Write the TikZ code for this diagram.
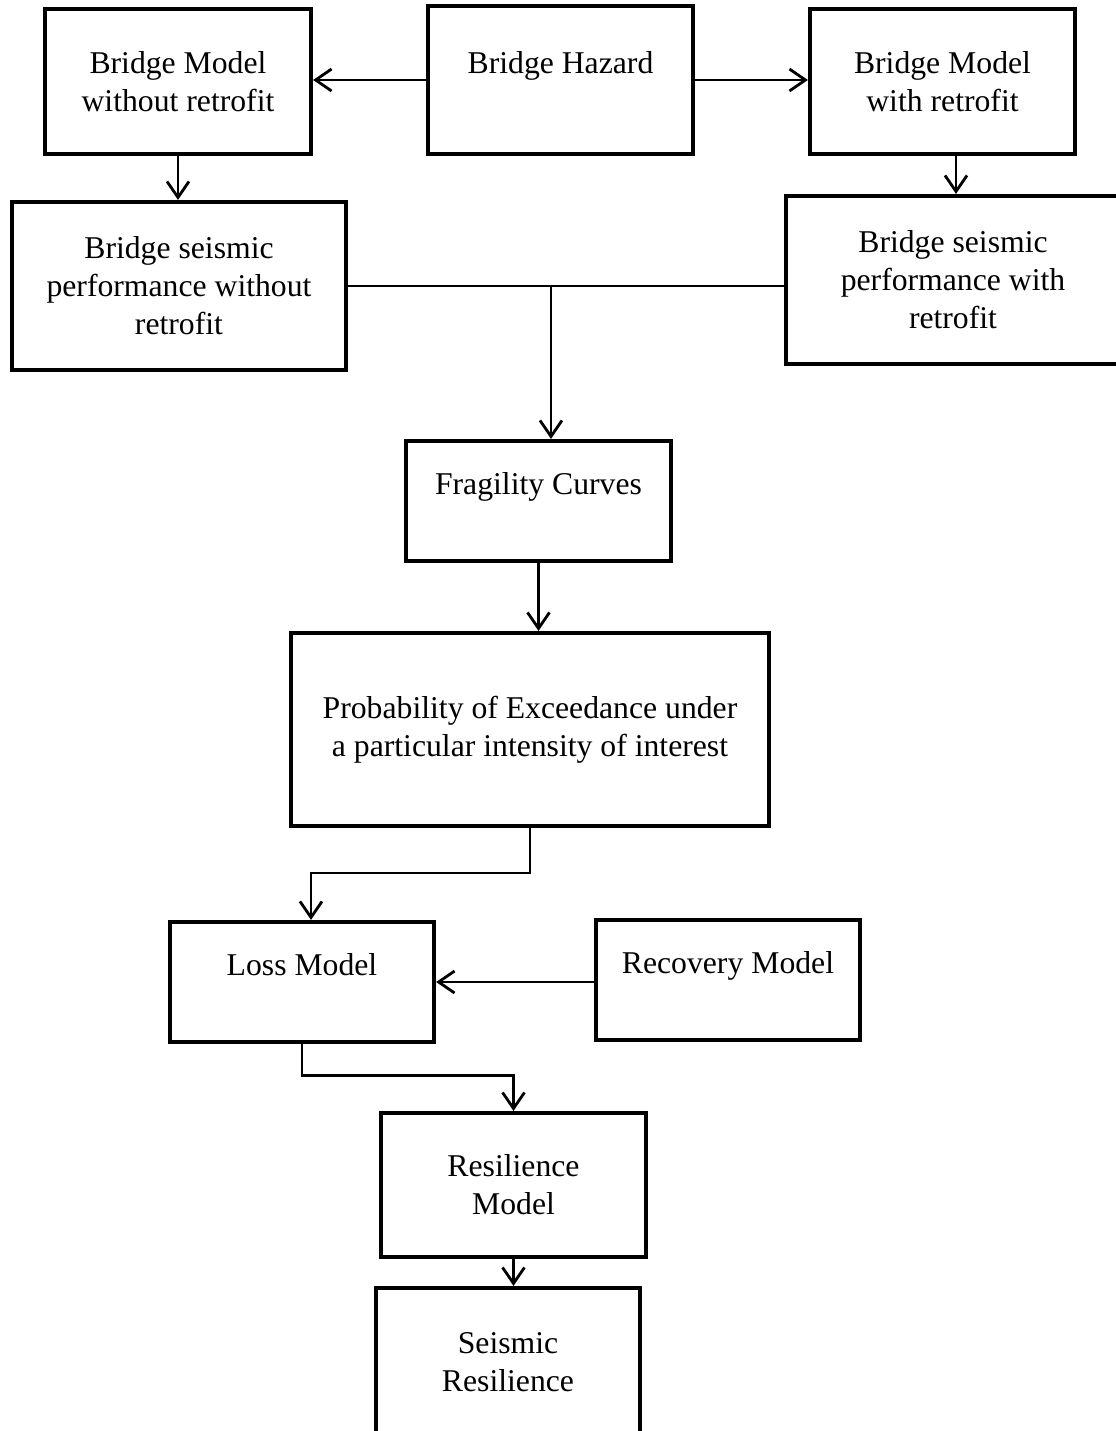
\documentclass[tikz,border=0pt]{standalone}
\usepackage{fontspec}
\setmainfont{Liberation Serif}
\usetikzlibrary{positioning,calc,arrows.meta}

\begin{document}
\begin{tikzpicture}[x=0.5pt,y=-0.5pt]
\useasboundingbox (0,0) rectangle (1115,1431);
\begin{scope}[every node/.style={rectangle,draw,line width=2.1pt,align=center,inner sep=0pt,
                                 font=\fontsize{15.85pt}{19pt}\selectfont},
              upper/.style={text height=11pt,text depth=18pt}]
    \node[minimum width=133pt,minimum height=72.5pt] (BMwo) at (178,81.5) {Bridge Model\\without retrofit};
    \node[upper,minimum width=132.5pt,minimum height=74pt] (BH) at (560.5,80) {Bridge Hazard};
    \node[minimum width=132.5pt,minimum height=72.5pt] (BMw) at (942.5,81.5) {Bridge Model\\with retrofit};
    \node[minimum width=167pt,minimum height=84pt] (BSPwo) at (179,286) {Bridge seismic\\performance without\\retrofit};
    \node[minimum width=167pt,minimum height=84pt] (BSPw) at (953,280) {Bridge seismic\\performance with\\retrofit};
    \node[upper,minimum width=132.5pt,minimum height=60pt] (FC) at (538.5,501) {Fragility Curves};
    \node[minimum width=239pt,minimum height=96.5pt] (PE) at (530,729.5) {Probability of Exceedance under\\a particular intensity of interest};
    \node[upper,minimum width=132pt,minimum height=60pt] (LM) at (302,982) {Loss Model};
    \node[upper,minimum width=132pt,minimum height=60pt] (RM) at (728,980) {Recovery Model};
    \node[minimum width=132.5pt,minimum height=72pt] (ResM) at (513.5,1185) {Resilience\\Model};
    \node[minimum width=132pt,minimum height=74pt] (SR) at (508,1362) {Seismic\\Resilience};
\end{scope}

\begin{scope}[>={Straight Barb[length=8pt,width=11pt]}, line width=1.4pt]
    \draw[->] (BH.west) -- (BH.west -| BMwo.east);
    \draw[->] (BH.east) -- (BH.east -| BMw.west);
    \draw[->] (BMwo.south) -- (BMwo.south |- BSPwo.north);
    \coordinate (drop) at (956,154);
    \draw[->] (drop |- BMw.south) -- (drop |- BSPw.north);
    \draw (BSPwo.east) -- (BSPwo.east -| BSPw.west);
    \coordinate (split) at (551,286);
    \draw[->] (split) -- (split |- FC.north);
    \draw[->] (FC.south) -- (FC.south |- PE.north);
    \coordinate (elbow) at (311,873);
    \draw[->] (PE.south) |- (elbow) -- (elbow |- LM.north);
    \draw[->] (RM.west |- LM.east) -- (LM.east);
    \draw[->] (LM.south) -- ++(0,31) -| (ResM.north);
    \draw[->] (ResM.south) -- (ResM.south |- SR.north);
\end{scope}
\end{tikzpicture}
\end{document}
